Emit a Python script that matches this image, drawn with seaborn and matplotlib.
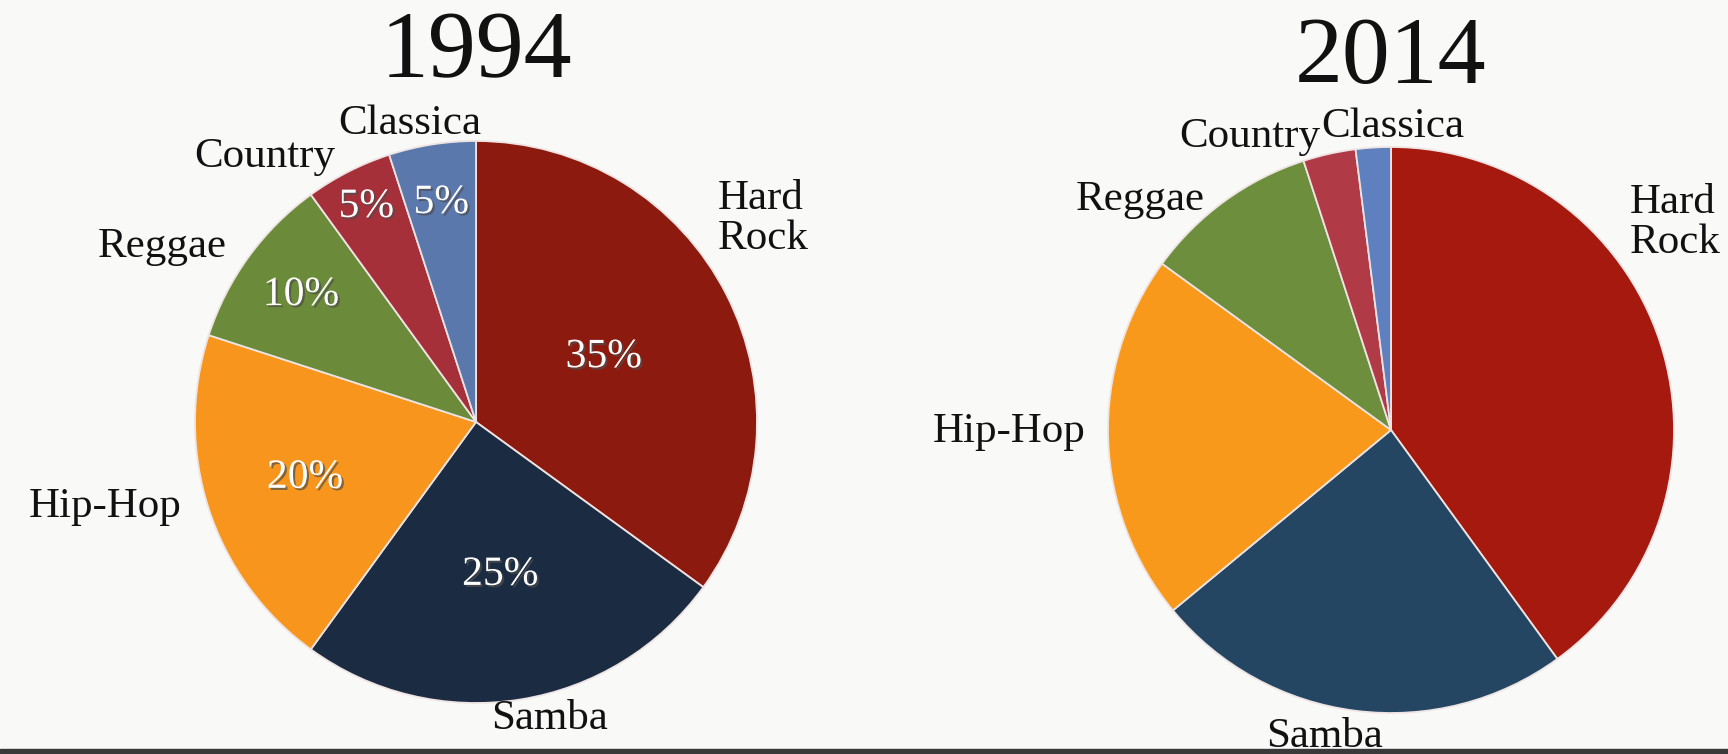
import numpy as np
import matplotlib
matplotlib.use("Agg")
import matplotlib.pyplot as plt
import matplotlib.patheffects as pe
import seaborn as sns

# data
genres = ["Hard Rock", "Samba", "Hip-Hop", "Reggae", "Country", "Classica"]
label_text = ["Hard\nRock", "Samba", "Hip-Hop", "Reggae", "Country", "Classica"]
share_1994 = [35, 25, 20, 10, 5, 5]
share_2014 = [40, 24, 21, 10, 3, 2]
years = ["1994", "2014"]

colors_1994 = ["#8c1a0e", "#1b2b42", "#f7951d", "#6b8a3a", "#a5303a", "#5b78ad"]
colors_2014 = ["#a5190f", "#244662", "#f8991b", "#6d8e3d", "#b03a45", "#5f80be"]

# label placement: (angle nudge in deg, radius, horizontal alignment)
label_layout = {
    "1994": [(13, 1.125, "left"), (5, 1.088, "center"), (-2, 1.09, "right"),
             (0.9, 1.083, "right"), (1, 1.07, "right"), (-10, 1.06, "right")],
    "2014": [(23, 1.118, "left"), (-5, 1.11, "center"), (-1.4, 1.08, "right"),
             (3, 1.047, "right"), (1, 1.066, "right"), (9.3, 1.10, "left")],
}
pct_dist_1994 = [0.51, 0.55, 0.64, 0.77, 0.86, 0.79]

sns.set_theme(style="white")
plt.rcParams["font.family"] = ["Liberation Serif", "DejaVu Serif"]

W, H = 1728, 754
fig = plt.figure(figsize=(W / 100, H / 100), dpi=100)
fig.patch.set_facecolor("#f9f9f7")

XL, YL = (-1.6, 1.6), (-1.3, 1.5)


def place_axes(cx, cy, r):
    # axes rect so that the unit pie has centre (cx, cy) px and radius r px
    left = (cx + XL[0] * r) / W
    bottom = (H - cy + YL[0] * r) / H
    return [left, bottom, (XL[1] - XL[0]) * r / W, (YL[1] - YL[0]) * r / H]


def draw_pie(ax, year, shares, colors, pct_dist=None):
    wedges, texts = ax.pie(shares, labels=label_text, colors=colors, startangle=90,
                           counterclock=False, labeldistance=1.1,
                           wedgeprops=dict(edgecolor="#efe4e4", linewidth=1.3),
                           textprops=dict(fontsize=31, color="#111111"))
    for w, t, (dth, r, ha) in zip(wedges, texts, label_layout[year]):
        mid = np.deg2rad((w.theta1 + w.theta2) / 2 + dth)
        t.set_position((r * np.cos(mid), r * np.sin(mid)))
        t.set_ha(ha)
        t.set_va("center")
        t.set_linespacing(1.05)
    if pct_dist is not None:
        for w, s, d in zip(wedges, shares, pct_dist):
            mid = np.deg2rad((w.theta1 + w.theta2) / 2)
            ax.text(d * np.cos(mid), d * np.sin(mid), f"{s}%", ha="center", va="center",
                    fontsize=30, color="white",
                    path_effects=[pe.SimplePatchShadow(offset=(1.5, -1.5), alpha=0.7),
                                  pe.Normal()])
    ax.text(0, 1.31, year, ha="center", va="center", fontsize=69, color="#111111")
    ax.set_xlim(*XL)
    ax.set_ylim(*YL)
    ax.axis("off")


ax1 = fig.add_axes(place_axes(476, 422, 281))
draw_pie(ax1, "1994", share_1994, colors_1994, pct_dist_1994)

ax2 = fig.add_axes(place_axes(1391, 430, 283))
draw_pie(ax2, "2014", share_2014, colors_2014)

# dark page edge along the bottom of the photo
fig.add_artist(plt.Rectangle((0, 0), 1, 5 / H, transform=fig.transFigure,
                             color="#3a3a3a", zorder=0))

fig.savefig("out.png", dpi=100, facecolor=fig.get_facecolor())
